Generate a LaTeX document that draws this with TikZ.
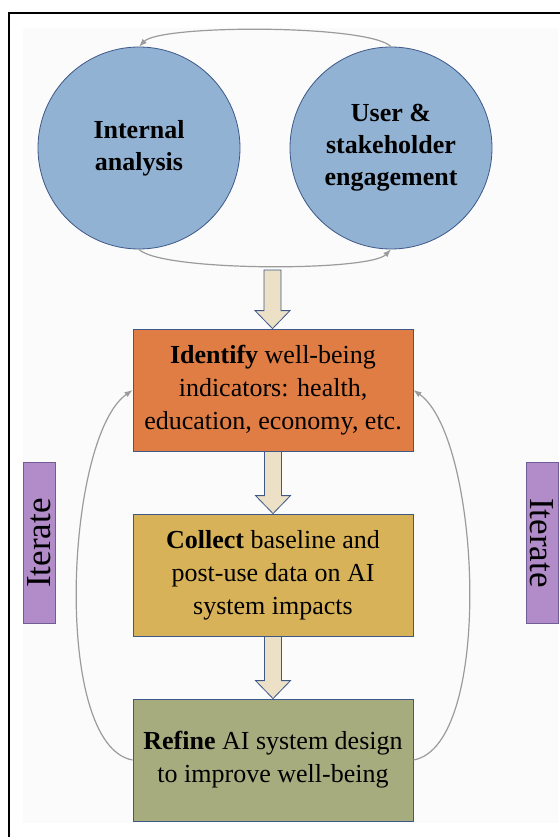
\documentclass[tikz,border=0pt]{standalone}
\usepackage{fontspec}
\setmainfont{LiberationSerif}[Extension=.ttf, UprightFont=*-Regular, BoldFont=*-Bold, ItalicFont=*-Italic, BoldItalicFont=*-BoldItalic]
\usetikzlibrary{shapes.geometric, arrows.meta, positioning, calc}
\definecolor{circblue}{RGB}{146,178,212}
\definecolor{edgeblue}{RGB}{62,88,136}
\definecolor{idorange}{RGB}{224,125,68}
\definecolor{cogold}{RGB}{216,178,88}
\definecolor{regreen}{RGB}{166,172,126}
\definecolor{iterpurple}{RGB}{177,140,200}
\definecolor{iterline}{RGB}{112,92,150}
\definecolor{arrowbeige}{RGB}{236,224,198}
\definecolor{loopgray}{RGB}{155,155,155}
\definecolor{bgfill}{RGB}{251,251,251}
\tikzset{
	bubble/.style={circle, draw=edgeblue, line width=0.8pt, fill=circblue, minimum size=202pt, inner sep=0pt, align=center, font=\fontsize{26}{32}\selectfont\bfseries},
	stepbox/.style={draw=edgeblue, line width=0.8pt, minimum width=280pt, minimum height=122pt, inner sep=0pt, align=center, font=\fontsize{26}{33}\selectfont},
	iterbox/.style={draw=iterline, line width=0.8pt, fill=iterpurple, minimum width=161pt, minimum height=32pt, inner sep=0pt, font=\fontsize{35}{40}\selectfont},
	loopline/.style={draw=loopgray, line width=1.2pt, -{Latex[length=8pt,width=6pt]}},
	fat/.style={draw=edgeblue, line width=0.8pt, fill=arrowbeige}
}
\newcommand{\fatarrow}[2]{%
	\filldraw[fat] let \p1=(#1), \p2=(#2) in
		(\x1-8.5pt,\y1) -- (\x1+8.5pt,\y1) -- (\x1+8.5pt,\y2+18pt) -- (\x1+17.5pt,\y2+18pt)
		-- (\x1,\y2) -- (\x1-17.5pt,\y2+18pt) -- (\x1-8.5pt,\y2+18pt) -- cycle;
}

\begin{document}
\begin{tikzpicture}[x=1pt, y=1pt]
		\useasboundingbox (0,0) rectangle (559,-837);
		\fill[bgfill] (23,-28) rectangle (558,-823);
		\draw[line width=1.8pt] (9,-837) -- (9,-13) -- (560,-13);
		
		\node[bubble] (ia) at (139,-148) {Internal\\analysis};
		\node[bubble] (ue) at (391,-148) {User \&\\stakeholder\\engagement};
		
		\node[stepbox, fill=idorange] (id) at (273,-390) {\textbf{Identify} well-being\\indicators: health,\\education, economy, etc.};
		\node[stepbox, fill=cogold] (co) at (273,-575) {\textbf{Collect} baseline and\\post-use data on AI\\system impacts};
		\node[stepbox, fill=regreen] (re) at (273,-760) {\textbf{Refine} AI system design\\to improve well-being};
		
		\node[iterbox, rotate=90] (itl) at (39,-543) {\raisebox{-2pt}{Iterate}};
		\node[iterbox, rotate=-90] (itr) at (542,-543) {\raisebox{-2pt}{Iterate}};
		
		\draw[loopline] (ue.north) to[out=135, in=45, looseness=0.32] (ia.north);
		\draw[loopline] (ia.south) to[out=-45, in=-135, looseness=0.32] (ue.south);
		\draw[loopline] (re.west) to[out=170, in=215, looseness=0.57] (id.west);
		\draw[loopline] (re.east) to[out=10, in=-35, looseness=0.57] (id.east);
		
		\coordinate (gap) at (272.5,-270);
		\fatarrow{gap}{id.north}
		\fatarrow{id.south}{co.north}
		\fatarrow{co.south}{re.north}
	\end{tikzpicture}
\end{document}
